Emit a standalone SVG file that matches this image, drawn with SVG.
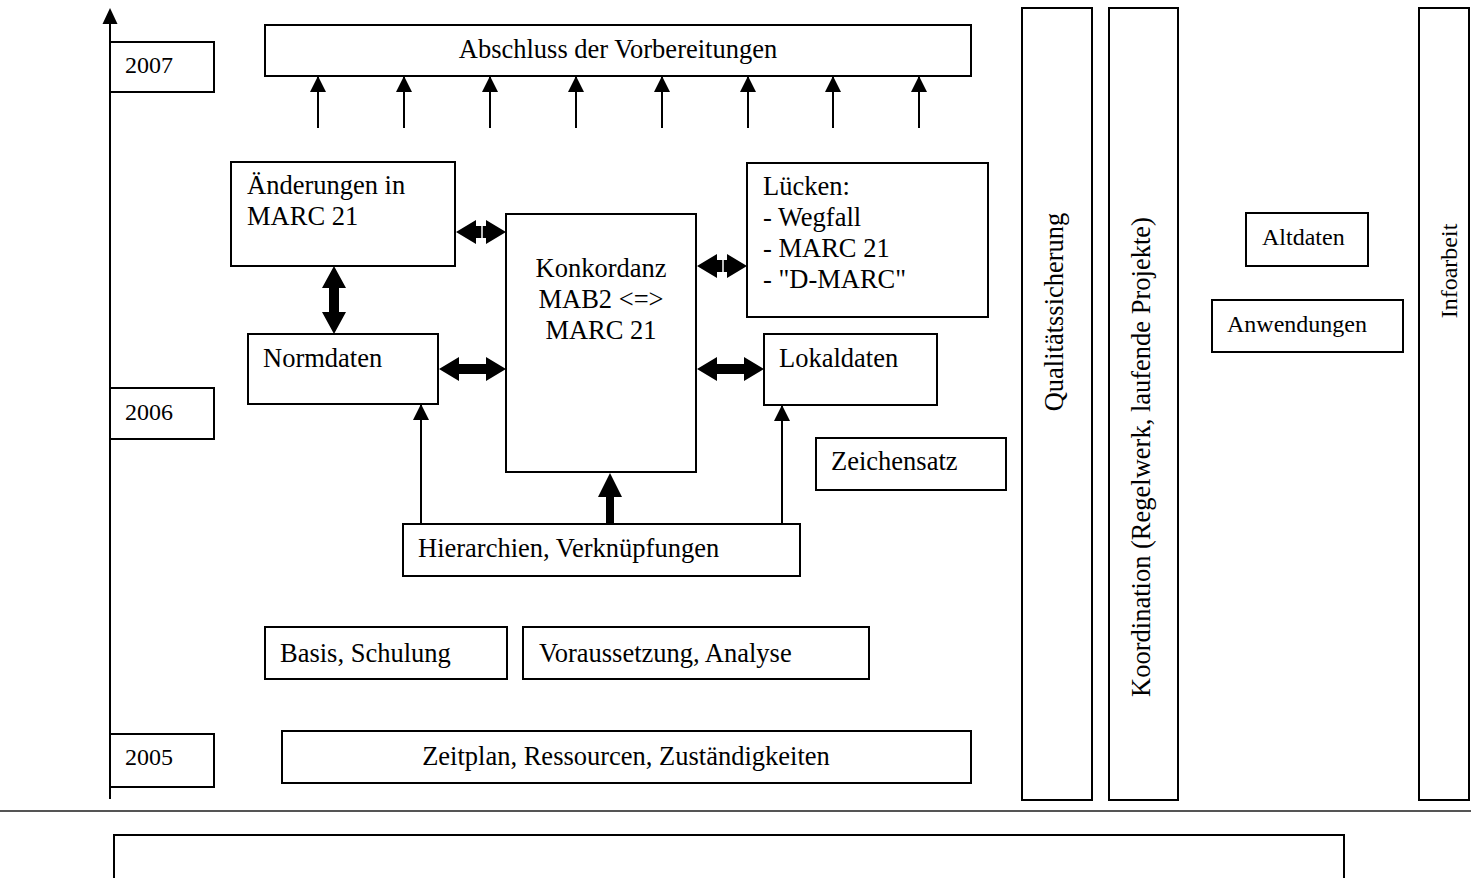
<svg xmlns="http://www.w3.org/2000/svg" width="1471" height="878" viewBox="0 0 1471 878">
<defs>
<style>
.b{fill:#fff;stroke:#000;stroke-width:2}
.t{font-family:"Liberation Serif","Times New Roman",serif;font-size:26.5px;fill:#000}
.s{font-family:"Liberation Serif","Times New Roman",serif;font-size:24px;fill:#000}
.c{text-anchor:middle}
.ln{stroke:#000;stroke-width:2;fill:none}
.ba{fill:#000;stroke:none}
</style>
<marker id="ah" markerUnits="userSpaceOnUse" markerWidth="16" markerHeight="16" viewBox="0 0 16 16" refX="15" refY="8" orient="auto">
<path d="M0,0 L16,8 L0,16 z" fill="#000"/>
</marker>
</defs>
<rect width="1471" height="878" fill="#fff"/>

<g id="timeline">
<line x1="110" y1="20" x2="110" y2="799" class="ln"/>
<path d="M110,8 L117.5,24 L102.5,24 z" fill="#000"/>
</g>
<g id="y2007"><rect class="b" x="110" y="42" width="104" height="50"/><text class="s" x="125" y="73">2007</text></g>
<g id="y2006"><rect class="b" x="110" y="388" width="104" height="51"/><text class="s" x="125" y="420">2006</text></g>
<g id="y2005"><rect class="b" x="110" y="734" width="104" height="53"/><text class="s" x="125" y="765">2005</text></g>

<g id="abschluss"><rect class="b" x="265" y="25" width="706" height="51"/><text class="t c" x="618" y="58">Abschluss der Vorbereitungen</text></g>

<g id="aenderungen"><rect class="b" x="231" y="162" width="224" height="104"/><text class="t" x="247" y="194">Änderungen in</text><text class="t" x="247" y="225">MARC 21</text></g>
<g id="konkordanz"><rect class="b" x="506" y="214" width="190" height="258"/><text class="t c" x="601" y="277">Konkordanz</text><text class="t c" x="601" y="308">MAB2 &lt;=&gt;</text><text class="t c" x="601" y="339">MARC 21</text></g>
<g id="luecken"><rect class="b" x="747" y="163" width="241" height="154"/><text class="t" x="763" y="195">Lücken:</text><text class="t" x="763" y="226">- Wegfall</text><text class="t" x="763" y="257">- MARC 21</text><text class="t" x="763" y="288">- "D-MARC"</text></g>
<g id="normdaten"><rect class="b" x="248" y="334" width="190" height="70"/><text class="t" x="263" y="367">Normdaten</text></g>
<g id="lokaldaten"><rect class="b" x="764" y="334" width="173" height="71"/><text class="t" x="779" y="367">Lokaldaten</text></g>
<g id="zeichensatz"><rect class="b" x="816" y="438" width="190" height="52"/><text class="t" x="831" y="470">Zeichensatz</text></g>
<g id="hierarchien"><rect class="b" x="403" y="524" width="397" height="52"/><text class="t" x="418" y="557">Hierarchien, Verknüpfungen</text></g>
<g id="basis"><rect class="b" x="265" y="627" width="242" height="52"/><text class="t" x="280" y="662">Basis, Schulung</text></g>
<g id="voraussetzung"><rect class="b" x="523" y="627" width="346" height="52"/><text class="t" x="539" y="662">Voraussetzung, Analyse</text></g>
<g id="zeitplan"><rect class="b" x="282" y="731" width="689" height="52"/><text class="t c" x="626" y="765">Zeitplan, Ressourcen, Zuständigkeiten</text></g>

<g id="qualitaet"><rect class="b" x="1022" y="8" width="70" height="792"/><text class="t c" transform="translate(1063,312) rotate(-90)">Qualitätssicherung</text></g>
<g id="koordination"><rect class="b" x="1109" y="8" width="69" height="792"/><text class="t c" transform="translate(1150,457) rotate(-90)">Koordination (Regelwerk, laufende Projekte)</text></g>
<g id="altdaten"><rect class="b" x="1246" y="213" width="122" height="53"/><text class="s" x="1262" y="245">Altdaten</text></g>
<g id="anwendungen"><rect class="b" x="1212" y="300" width="191" height="52"/><text class="s" x="1227" y="332">Anwendungen</text></g>
<g id="infoarbeit"><rect class="b" x="1419" y="8" width="50" height="792"/><text class="s c" transform="translate(1457,271) rotate(-90)">Infoarbeit</text></g>

<g id="separator"><line x1="0" y1="811" x2="1471" y2="811" stroke="#555" stroke-width="2"/></g>
<g id="bottombox"><rect class="b" x="114" y="835" width="1230" height="60"/></g>

<g id="connectors">
<line class="ln" x1="318" y1="128" x2="318" y2="77" marker-end="url(#ah)"/>
<line class="ln" x1="404" y1="128" x2="404" y2="77" marker-end="url(#ah)"/>
<line class="ln" x1="490" y1="128" x2="490" y2="77" marker-end="url(#ah)"/>
<line class="ln" x1="576" y1="128" x2="576" y2="77" marker-end="url(#ah)"/>
<line class="ln" x1="662" y1="128" x2="662" y2="77" marker-end="url(#ah)"/>
<line class="ln" x1="748" y1="128" x2="748" y2="77" marker-end="url(#ah)"/>
<line class="ln" x1="833" y1="128" x2="833" y2="77" marker-end="url(#ah)"/>
<line class="ln" x1="919" y1="128" x2="919" y2="77" marker-end="url(#ah)"/>
<polyline class="ln" points="421,524 421,405" marker-end="url(#ah)"/>
<polyline class="ln" points="782,524 782,406" marker-end="url(#ah)"/>
<path class="ba" d="M610,473 L622,497 L614,497 L614,524 L606,524 L606,497 L598,497 z"/>
<path class="ba" d="M334,266 L346,288 L339,288 L339,312 L346,312 L334,334 L322,312 L329,312 L329,288 L322,288 z"/>
<path class="ba" d="M439,369 L459,357 L459,364 L486,364 L486,357 L506,369 L486,381 L486,374 L459,374 L459,381 z"/>
<path class="ba" d="M697,369 L717,357 L717,364 L744,364 L744,357 L764,369 L744,381 L744,374 L717,374 L717,381 z"/>
<path class="ba" d="M456,232 L476,220 L476,226 L486,226 L486,220 L506,232 L486,244 L486,238 L476,238 L476,244 z"/>
<line x1="482" y1="223" x2="482" y2="241" stroke="#fff" stroke-width="1.5"/>
<path class="ba" d="M697,266 L717,254 L717,260 L727,260 L727,254 L747,266 L727,278 L727,272 L717,272 L717,278 z"/>
<line x1="723" y1="257" x2="723" y2="275" stroke="#fff" stroke-width="1.5"/>
</g>
</svg>
